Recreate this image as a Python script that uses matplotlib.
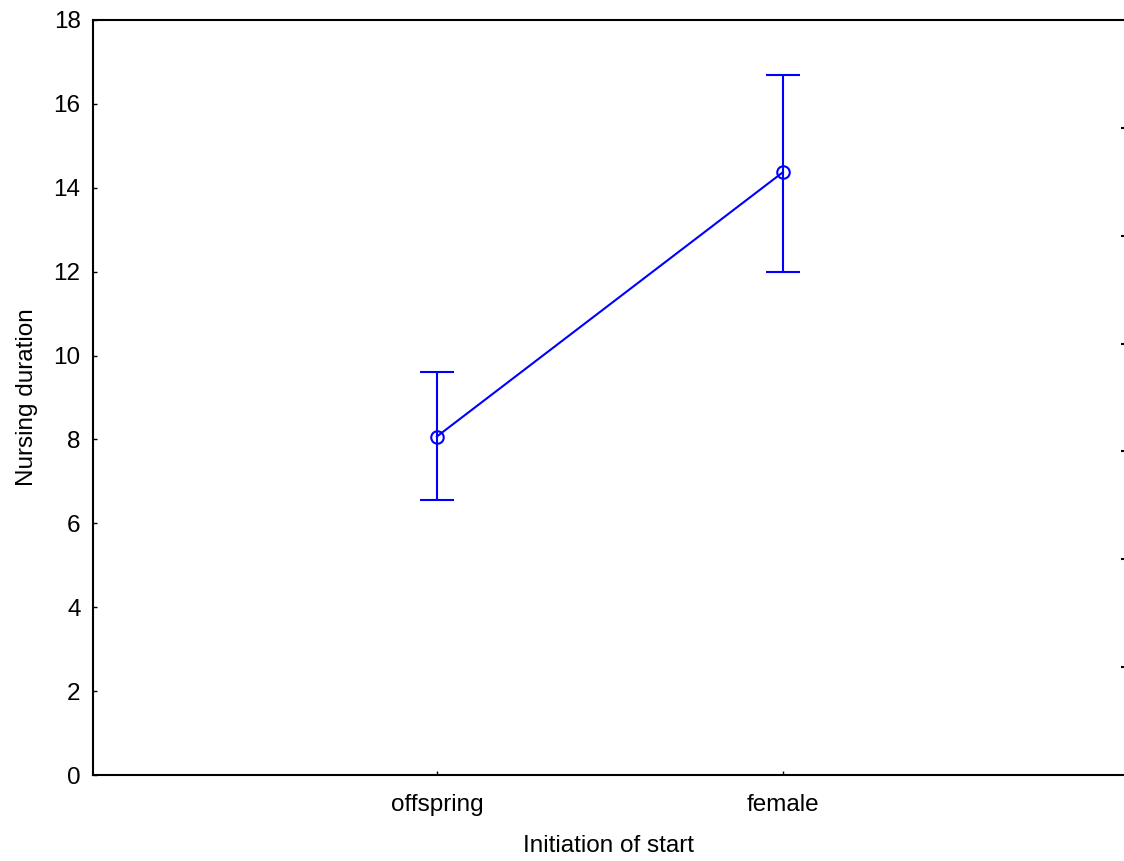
import numpy as np
import matplotlib
matplotlib.use('Agg')
import matplotlib.pyplot as plt

#%% Data
groups = ['offspring', 'female']
means = [8.07, 14.37]
err_low = [1.52, 2.37]
err_high = [1.53, 2.33]

plt.rcParams['font.family'] = ['Liberation Sans', 'DejaVu Sans']

#%% Plot
fig = plt.figure(figsize=(11.24, 8.61), dpi=100)
ax = fig.add_axes([93/1124, 86/861, 1 - 93/1124, 755/861])

xpos = np.arange(1, len(groups) + 1)
ax.errorbar(xpos, means, yerr=[err_low, err_high], color='#0000ff', lw=1.5,
            marker='o', ms=9, mfc='none', mec='#0000ff', mew=1.5,
            capsize=12, capthick=1.5, elinewidth=1.5)

ax.set_xlim(0.006, 2.986)
ax.set_ylim(0, 18)
ax.set_yticks(np.arange(0, 19, 2))
ax.set_xticks(xpos)
ax.set_xticklabels(groups)
ax.tick_params(direction='in', length=3, width=1, labelsize=17.5, pad=9)
ax.tick_params(axis='x', pad=14)
for s in ['left', 'bottom', 'top']:
    ax.spines[s].set_linewidth(1.5)
ax.spines['right'].set_visible(False)

# right axis ticks (cut off at the edge)
ax2 = ax.twinx()
ax2.set_ylim(0, 14)
ax2.set_yticks(np.arange(2, 13, 2))
ax2.set_yticklabels([])
ax2.tick_params(direction='in', length=2, width=1.5)
for s in ax2.spines.values():
    s.set_visible(False)

ax.set_xlabel('Initiation of start', fontsize=17.5, labelpad=13)
ax.set_ylabel('Nursing duration', fontsize=17.5, labelpad=11)

fig.savefig('out.png', dpi=100)
